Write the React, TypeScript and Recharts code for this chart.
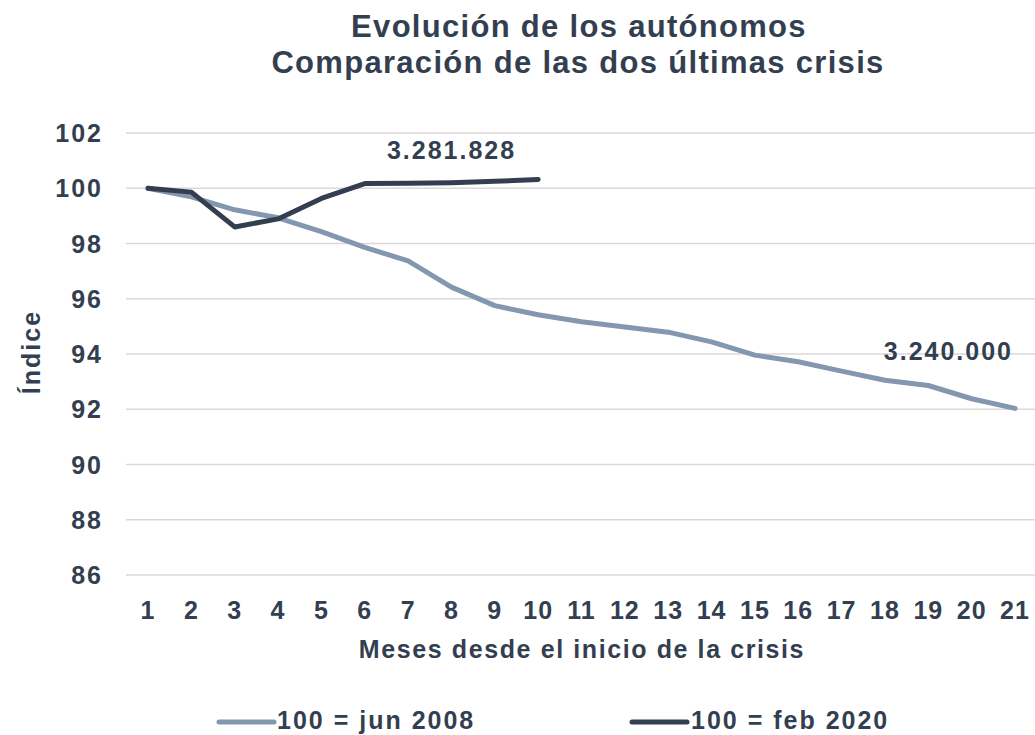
import React from 'react';
import { LineChart, Line, XAxis, YAxis, CartesianGrid, LabelList } from 'recharts';

const months = [1, 2, 3, 4, 5, 6, 7, 8, 9, 10, 11, 12, 13, 14, 15, 16, 17, 18, 19, 20, 21];
const crisis2008 = [100, 99.69, 99.22, 98.93, 98.43, 97.86, 97.37, 96.42, 95.75, 95.42, 95.17, 94.98, 94.79, 94.44, 93.96, 93.72, 93.38, 93.05, 92.86, 92.38, 92.03];
const crisis2020 = [100, 99.86, 98.6, 98.89, 99.63, 100.17, 100.18, 100.2, 100.25, 100.32];
const yTicks = [86, 88, 90, 92, 94, 96, 98, 100, 102];
const label2008 = '3.240.000';
const label2020 = '3.281.828';
const titleLines = ['Evolución de los autónomos', 'Comparación de las dos últimas crisis'];
const xTitle = 'Meses desde el inicio de la crisis';
const yTitle = 'Índice';
const legendNames = ['100 = jun 2008', '100 = feb 2020'];

const data = months.map((m, i) => ({
  m,
  a: crisis2008[i],
  b: i < crisis2020.length ? crisis2020[i] : undefined,
}));

const FONT = '"Liberation Sans", Arial, sans-serif';
const TXT = '#333F50';
const LIGHT = '#8497B0';
const DARK = '#333F50';

const XTick = (props: any) => {
  const { x, y, payload } = props;
  return (
    <text x={x} y={y} dy={44} textAnchor="middle" fontFamily={FONT} fontWeight={700} fontSize={25} letterSpacing={1} fill={TXT}>
      {payload.value}
    </text>
  );
};

const YTick = (props: any) => {
  const { x, y, payload } = props;
  return (
    <text x={x} y={y} dx={-23} dy={9} textAnchor="end" fontFamily={FONT} fontWeight={700} fontSize={25} letterSpacing={2} fill={TXT}>
      {payload.value}
    </text>
  );
};

const makeLabel = (text: string, idx: number, dx: number, dy: number) => (props: any) => {
  const { x, y, index } = props;
  if (index !== idx || x == null || y == null) return null;
  return (
    <text x={x + dx} y={y + dy} textAnchor="end" fontFamily={FONT} fontWeight={700} fontSize={25} letterSpacing={2} fill={TXT}>
      {text}
    </text>
  );
};

export default function App() {
  return (
    <div style={{ position: 'absolute', left: 0, top: 0, width: 1035, height: 735, background: '#fff' }}>
      <LineChart
        width={1035}
        height={735}
        data={data}
        margin={{ top: 133, right: 0, left: 0, bottom: 0 }}
      >
        <CartesianGrid vertical={false} stroke="#D9D9D9" strokeWidth={1.5} />
        <XAxis
          dataKey="m"
          type="category"
          height={160}
          tickLine={false}
          axisLine={false}
          tickSize={0}
          tickMargin={0}
          interval={0}
          padding={{ left: 22, right: 20 }}
          tick={<XTick />}
        />
        <YAxis
          width={126}
          domain={[86, 102]}
          ticks={yTicks}
          tickLine={false}
          axisLine={false}
          tickSize={0}
          tickMargin={0}
          interval={0}
          tick={<YTick />}
        />
        <Line
          dataKey="a"
          stroke={LIGHT}
          strokeWidth={5}
          strokeLinecap="round"
          strokeLinejoin="round"
          dot={false}
          isAnimationActive={false}
        >
          <LabelList dataKey="a" content={makeLabel(label2008, crisis2008.length - 1, -2, -48)} />
        </Line>
        <Line
          dataKey="b"
          stroke={DARK}
          strokeWidth={5}
          strokeLinecap="round"
          strokeLinejoin="round"
          dot={false}
          connectNulls={false}
          isAnimationActive={false}
        >
          <LabelList dataKey="b" content={makeLabel(label2020, crisis2020.length - 1, -22, -20)} />
        </Line>
      </LineChart>
      <svg width={1035} height={735} style={{ position: 'absolute', left: 0, top: 0, pointerEvents: 'none' }}>
        <g fontFamily={FONT} fontWeight={700} fill={TXT}>
          <text x={579} y={37} textAnchor="middle" fontSize={31} letterSpacing={1.3}>{titleLines[0]}</text>
          <text x={578} y={73} textAnchor="middle" fontSize={31} letterSpacing={1.3}>{titleLines[1]}</text>
          <text x={582} y={658} textAnchor="middle" fontSize={25} letterSpacing={1.6}>{xTitle}</text>
          <text x={40} y={352} textAnchor="middle" fontSize={25} letterSpacing={2} transform="rotate(-90 40 352)">{yTitle}</text>
          <line x1={219} y1={722} x2={274} y2={722} stroke={LIGHT} strokeWidth={5} strokeLinecap="round" />
          <text x={277} y={729} fontSize={25} letterSpacing={2}>{legendNames[0]}</text>
          <line x1={632} y1={722} x2={687} y2={722} stroke={DARK} strokeWidth={5} strokeLinecap="round" />
          <text x={691} y={729} fontSize={25} letterSpacing={2}>{legendNames[1]}</text>
        </g>
      </svg>
    </div>
  );
}
